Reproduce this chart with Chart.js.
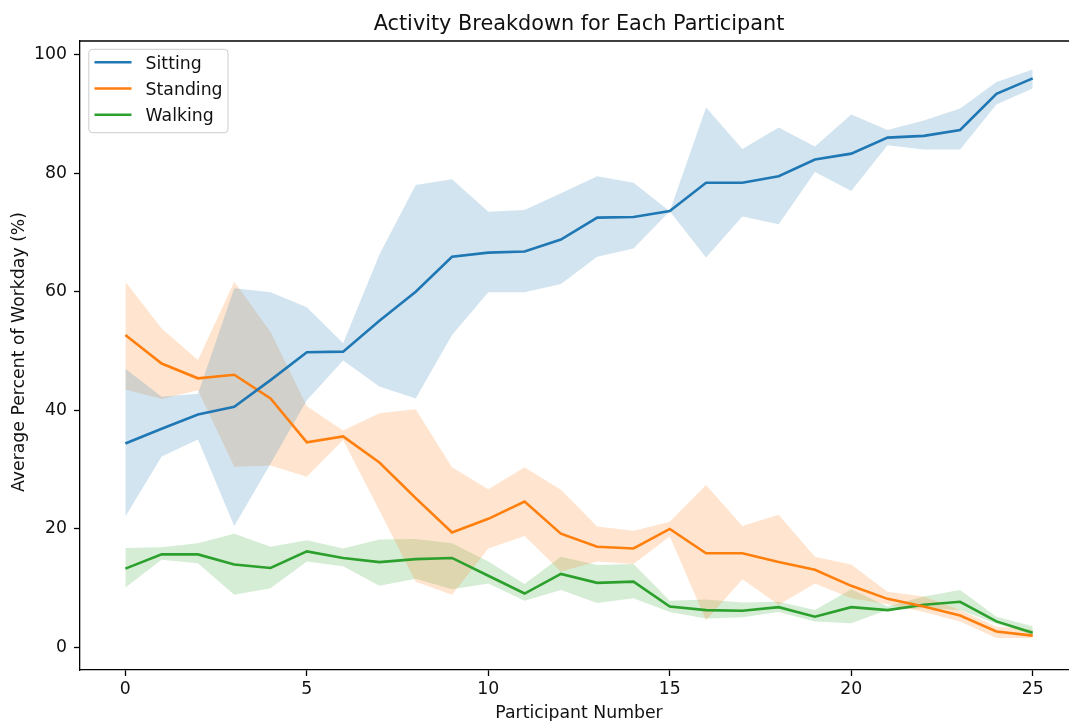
<!DOCTYPE html>
<html>
<head>
<meta charset="utf-8">
<script src="https://cdn.jsdelivr.net/npm/chart.js@4.4.1/dist/chart.umd.min.js"></script>
<style>
  html, body { margin: 0; padding: 0; background: #fff; overflow: hidden; }
</style>
</head>
<body>
<canvas id="activityChart" width="1069" height="721"></canvas>
<script>
// participant index on the x axis
const PARTICIPANTS = [0, 1, 2, 3, 4, 5, 6, 7, 8, 9, 10, 11, 12, 13, 14, 15, 16, 17, 18, 19, 20, 21, 22, 23, 24, 25];

const SITTING_MEAN  = [34.4, 36.9, 39.3, 40.6, 45.1, 49.8, 49.9, 55.1, 60.0, 65.9, 66.6, 66.8, 68.8, 72.5, 72.6, 73.6, 78.4, 78.4, 79.5, 82.3, 83.3, 86.0, 86.3, 87.3, 93.4, 96.0];
const SITTING_UPPER = [47.0, 42.3, 42.8, 60.6, 59.9, 57.4, 51.3, 66.3, 78.0, 79.0, 73.5, 73.8, 76.6, 79.5, 78.4, 73.6, 91.1, 84.1, 87.7, 84.5, 89.9, 87.3, 88.9, 90.9, 95.4, 97.5];
const SITTING_LOWER = [22.1, 32.2, 35.1, 20.5, 31.0, 41.7, 48.4, 44.0, 42.0, 52.7, 59.9, 59.9, 61.3, 65.9, 67.3, 73.6, 65.8, 72.7, 71.4, 80.2, 77.0, 84.7, 84.0, 84.0, 91.6, 94.3];

const STANDING_MEAN  = [52.7, 47.9, 45.4, 46.0, 42.0, 34.6, 35.6, 31.2, 25.2, 19.4, 21.7, 24.6, 19.2, 17.0, 16.7, 20.0, 15.9, 15.9, 14.4, 13.1, 10.4, 8.2, 6.9, 5.4, 2.7, 2.0];
const STANDING_UPPER = [61.7, 53.8, 48.5, 61.7, 53.2, 40.7, 36.6, 39.5, 40.2, 30.4, 26.7, 30.4, 26.6, 20.4, 19.7, 21.2, 27.4, 20.5, 22.4, 15.3, 14.0, 9.4, 8.6, 6.3, 3.5, 3.0];
const STANDING_LOWER = [43.5, 41.9, 43.4, 30.5, 30.7, 28.8, 35.0, 23.1, 11.1, 8.9, 16.7, 18.8, 12.8, 14.5, 14.1, 18.7, 4.6, 11.5, 7.2, 10.8, 8.3, 7.3, 6.0, 4.4, 1.6, 1.6];

const WALKING_MEAN  = [13.3, 15.7, 15.7, 14.0, 13.4, 16.2, 15.1, 14.4, 14.9, 15.1, 12.1, 9.1, 12.4, 10.9, 11.1, 6.9, 6.3, 6.2, 6.8, 5.2, 6.8, 6.3, 7.2, 7.7, 4.4, 2.5];
const WALKING_UPPER = [16.8, 16.9, 17.6, 19.2, 17.0, 18.1, 16.7, 18.2, 18.3, 17.6, 14.5, 10.7, 15.3, 13.9, 14.1, 7.9, 8.1, 7.6, 7.7, 6.3, 9.8, 6.9, 8.6, 9.7, 5.2, 3.6];
const WALKING_LOWER = [10.1, 14.8, 14.2, 8.9, 10.0, 14.5, 13.7, 10.4, 11.6, 9.8, 10.8, 7.9, 9.7, 7.5, 8.3, 6.0, 4.9, 5.1, 6.0, 4.4, 4.1, 6.3, 6.6, 6.3, 4.0, 2.1];

const X_TICKS = [0, 5, 10, 15, 20, 25];
const Y_TICKS = [0, 20, 40, 60, 80, 100];

const BLUE = '#1f77b4', ORANGE = '#ff7f0e', GREEN = '#2ca02c';
const FONT = "'DejaVu Sans', sans-serif";

Chart.defaults.font.family = FONT;
Chart.defaults.font.size = 17.3;
Chart.defaults.color = '#111';

const toPoints = (values) => values.map((v, i) => ({ x: PARTICIPANTS[i], y: v }));

function meanLine(label, color, values) {
  return {
    label: label,
    data: toPoints(values),
    borderColor: color,
    borderWidth: 2.6,
    pointRadius: 0,
    fill: false,
    tension: 0
  };
}

function band(color, values, fill) {
  return {
    label: '',
    data: toPoints(values),
    borderColor: 'transparent',
    borderWidth: 0,
    pointRadius: 0,
    backgroundColor: color,
    fill: fill,
    tension: 0
  };
}

// frame, title, axis titles and boxed legend like the original figure
const decorations = {
  id: 'decorations',
  afterDraw(chart) {
    const { ctx, chartArea: a } = chart;
    ctx.save();

    ctx.strokeStyle = '#000';
    ctx.lineWidth = 1.3;
    ctx.beginPath();
    ctx.moveTo(a.left, a.top);
    ctx.lineTo(a.right, a.top);
    ctx.stroke();

    ctx.fillStyle = '#111';
    ctx.textAlign = 'center';
    ctx.textBaseline = 'alphabetic';
    ctx.font = '20.8px ' + FONT;
    ctx.fillText('Activity Breakdown for Each Participant', 579, 29.5);

    ctx.font = '17.3px ' + FONT;
    ctx.fillText('Participant Number', 579, 718);

    ctx.save();
    ctx.translate(24, 352);
    ctx.rotate(-Math.PI / 2);
    ctx.fillText('Average Percent of Workday (%)', 0, 0);
    ctx.restore();

    // legend box
    const items = chart.data.datasets.filter(d => d.label);
    ctx.beginPath();
    ctx.roundRect(88.8, 49.3, 139.2, 83.4, 3.5);
    ctx.fillStyle = 'rgba(255,255,255,0.8)';
    ctx.fill();
    ctx.strokeStyle = '#cccccc';
    ctx.lineWidth = 1;
    ctx.stroke();

    ctx.textAlign = 'left';
    items.forEach((d, i) => {
      const y = 62.3 + i * 26.2;
      ctx.strokeStyle = d.borderColor;
      ctx.lineWidth = 2.6;
      ctx.beginPath();
      ctx.moveTo(94.5, y);
      ctx.lineTo(131.5, y);
      ctx.stroke();
      ctx.fillStyle = '#111';
      ctx.fillText(d.label, 145.6, y + 6.6);
    });

    ctx.restore();
  }
};

new Chart(document.getElementById('activityChart'), {
  type: 'line',
  data: {
    datasets: [
      meanLine('Sitting', BLUE, SITTING_MEAN),
      meanLine('Standing', ORANGE, STANDING_MEAN),
      meanLine('Walking', GREEN, WALKING_MEAN),
      band('rgba(31,119,180,0.2)', SITTING_UPPER, '+1'),
      band('rgba(31,119,180,0.2)', SITTING_LOWER, false),
      band('rgba(255,127,14,0.2)', STANDING_UPPER, '+1'),
      band('rgba(255,127,14,0.2)', STANDING_LOWER, false),
      band('rgba(44,160,44,0.2)', WALKING_UPPER, '+1'),
      band('rgba(44,160,44,0.2)', WALKING_LOWER, false)
    ]
  },
  options: {
    responsive: false,
    animation: false,
    devicePixelRatio: 1,
    layout: { padding: { top: 41, right: 0, bottom: 0, left: 0 } },
    plugins: {
      legend: { display: false },
      tooltip: { enabled: false },
      filler: { propagate: false }
    },
    scales: {
      x: {
        type: 'linear',
        min: -1.25,
        max: 26.0,
        afterBuildTicks: (scale) => { scale.ticks = X_TICKS.map(v => ({ value: v })); },
        afterFit: (scale) => { scale.height = 51; },
        grid: { drawOnChartArea: false, drawTicks: true, tickLength: 6, tickColor: '#000', tickWidth: 1.3 },
        border: { display: true, color: '#000', width: 1.3 },
        ticks: { padding: 3, maxRotation: 0, color: '#111' }
      },
      y: {
        type: 'linear',
        min: -3.8,
        max: 102.3,
        afterBuildTicks: (scale) => { scale.ticks = Y_TICKS.map(v => ({ value: v })); },
        afterFit: (scale) => { scale.width = 80; },
        grid: { drawOnChartArea: false, drawTicks: true, tickLength: 6, tickColor: '#000', tickWidth: 1.3 },
        border: { display: true, color: '#000', width: 1.3 },
        ticks: { padding: 7, color: '#111' }
      }
    }
  },
  plugins: [decorations]
});
</script>
</body>
</html>
